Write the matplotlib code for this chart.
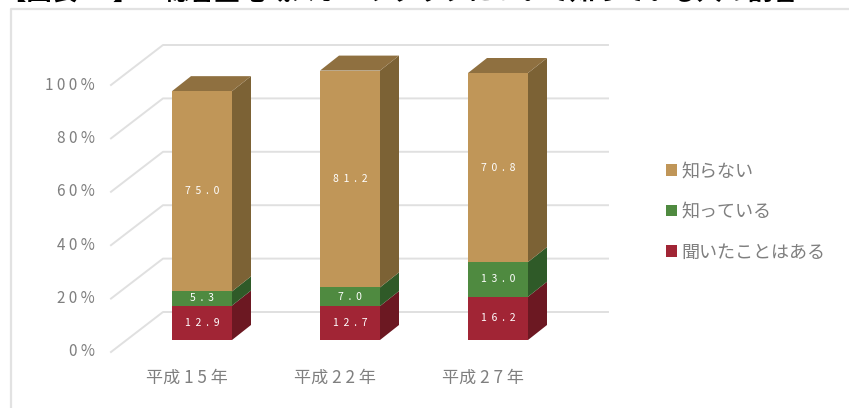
import matplotlib.pyplot as plt
from matplotlib.patches import Polygon, Patch

plt.rcParams['font.family'] = ['Noto Sans CJK JP', 'DejaVu Sans']

years = ['平成 1 5 年', '平成 2 2 年', '平成 2 7 年']
heard = [12.9, 12.7, 16.2]
know = [5.3, 7.0, 13.0]
dont_know = [75.0, 81.2, 70.8]
ticks = [0, 20, 40, 60, 80, 100]
tick_labels = ['0 %', '2 0 %', '4 0 %', '6 0 %', '8 0 %', '1 0 0 %']
series_names = ['聞いたことはある', '知っている', '知らない']

title = '【図表 26】　総合型地域スポーツクラブについて知っている人の割合'

W, H = 849, 408
PX_CAT = 148.0   # px between bars
PX_PCT = 2.67    # px per percent
X0, Y0 = 202.0, 340.0   # px position of first bar centre / baseline
BAR_W = 60 / PX_CAT
DX = 19 / PX_CAT   # bar depth
DY = 15 / PX_PCT

colors = [('#A12535', '#6C1822'), ('#4F8A40', '#2F5A28'), ('#C09658', '#7C6235')]
top_color = '#8F7040'
grid_color = '#E0E0E0'
text_color = '#7F7F7F'

fig = plt.figure(figsize=(W / 100, H / 100), dpi=100)
ax = fig.add_axes([0, 0, 1, 1])
ax.set_xlim(-X0 / PX_CAT, (W - X0) / PX_CAT)
ax.set_ylim((Y0 - H) / PX_PCT, Y0 / PX_PCT)
ax.axis('off')


def px_x(p):
    return (p - X0) / PX_CAT


def px_y(p):
    return (Y0 - p) / PX_PCT


# frame, only left and top show
ax.plot([px_x(10.5), px_x(10.5), px_x(W)], [px_y(H), px_y(8.5), px_y(8.5)],
        color='#E2E2E2', lw=1.6, solid_capstyle='butt')

# 3d style gridlines
for t, lab in zip(ticks, tick_labels):
    front_x, back_x, end_x = px_x(111), px_x(163), px_x(608)
    y_front = px_y(352) + t
    y_back = px_y(312) + t
    ax.plot([front_x, back_x, end_x], [y_front, y_back, y_back], color=grid_color, lw=1.4, zorder=1)
    ax.text(px_x(95), y_front, lab, ha='right', va='center', fontsize=11, color=text_color)

# bars
for i in range(len(years)):
    left = i - BAR_W / 2
    right = i + BAR_W / 2
    bottom = 0
    for vals, (front, side) in zip([heard, know, dont_know], colors):
        v = vals[i]
        top = bottom + v
        ax.add_patch(Polygon([(right, bottom), (right + DX, bottom + DY), (right + DX, top + DY), (right, top)],
                             facecolor=side, edgecolor='none', zorder=3))
        ax.add_patch(Polygon([(left, bottom), (right, bottom), (right, top), (left, top)],
                             facecolor=front, edgecolor='none', zorder=4))
        ax.text(i, bottom + v / 2, '  '.join(f'{v:.1f}'), ha='center', va='center',
                fontsize=7.5, color='white', zorder=5)
        bottom = top
    ax.add_patch(Polygon([(left, bottom), (right, bottom), (right + DX, bottom + DY), (left + DX, bottom + DY)],
                         facecolor=top_color, edgecolor='none', zorder=3))
    ax.text(i - 15 / PX_CAT, px_y(378), years[i], ha='center', va='center', fontsize=12.3, color=text_color)

# legend
handles = [Patch(facecolor=colors[j][0], edgecolor='none') for j in [2, 1, 0]]
names = series_names[::-1]
ax.legend(handles, names, loc='center left', bbox_to_anchor=(650 / W, 1 - 212 / H),
          bbox_transform=fig.transFigure, frameon=False, fontsize=13, labelcolor=text_color,
          handlelength=0.62, handleheight=0.62, handletextpad=0.2, labelspacing=1.25)

# title is cut off by the top of the image
ax.text(px_x(1), px_y(-0.5), title, ha='left', va='baseline', fontsize=18.3,
        fontweight='bold', color='black', clip_on=True)

fig.savefig('out.png', dpi=100)
